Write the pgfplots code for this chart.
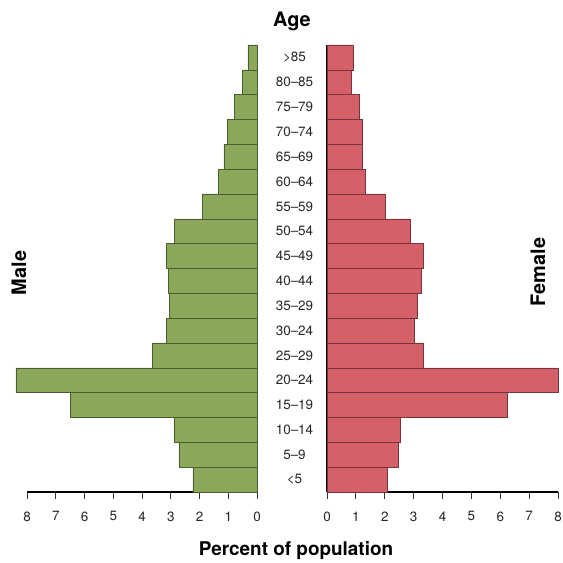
\documentclass[border=0pt]{standalone}
\usepackage{fontspec}
\setmainfont{TeX Gyre Heros}
\usepackage{pgfplots}
\pgfplotsset{compat=1.18}
\usepackage{pgfplotstable}

\definecolor{malegreen}{RGB}{139,168,90}
\definecolor{femalered}{RGB}{213,96,106}

% percent of population per age group, 0 = <5 ... 17 = >85
\pgfplotstableread{
idx pct
0  2.23
1  2.72
2  2.89
3  6.49
4  8.39
5  3.64
6  3.15
7  3.06
8  3.09
9  3.17
10 2.88
11 1.91
12 1.35
13 1.15
14 1.03
15 0.78
16 0.51
17 0.32
}\maletable

\pgfplotstableread{
idx pct
0  2.09
1  2.48
2  2.53
3  6.24
4  8.00
5  3.32
6  3.02
7  3.14
8  3.26
9  3.32
10 2.87
11 2.02
12 1.31
13 1.22
14 1.22
15 1.11
16 0.83
17 0.92
}\femaletable

\pgfplotsset{
  pyramid/.style={
    scale only axis,
    anchor=south west,
    height=447bp,
    xbar,
    bar width=1,
    ymin=-0.5, ymax=17.5,
    clip=false,
    axis x line=bottom,
    tick align=outside,
    major tick length=7bp,
    x tick style={black!80, line width=0.8bp},
    y tick style={draw=none},
    xticklabel style={font=\fontsize{13.5}{15}\selectfont, text=black!85, yshift=-9bp},
  },
  plainlines/.style={
    every outer x axis line/.append style={-, line width=1.8bp},
    every outer y axis line/.append style={-, line width=1.8bp},
    axis line style={-, line width=1.8bp},
  }
}

\begin{document}
\begin{tikzpicture}
\useasboundingbox (0,0) rectangle (563bp,563bp);

\begin{axis}[
  pyramid,
  at={(27bp,71bp)},
  width=230bp,
  xmin=-8, xmax=0,
  axis y line=right,
  plainlines,
  xtick={-8,-7,-6,-5,-4,-3,-2,-1,0},
  xticklabels={8,7,6,5,4,3,2,1,0},
  ytick={0,...,17},
  yticklabels={<5,5--9,10--14,15--19,20--24,25--29,30--24,35--29,40--44,45--49,50--54,55--59,60--64,65--69,70--74,75--79,80--85,>85},
  yticklabel style={anchor=center, xshift=34bp, font=\fontsize{13.5}{15}\selectfont, text=black!85},
]
  \addplot[fill=malegreen, draw=malegreen!55!black, line width=0.5bp]
    table[x expr=-\thisrow{pct}, y=idx] {\maletable};
\end{axis}

\begin{axis}[
  pyramid,
  at={(327bp,71bp)},
  width=231bp,
  xmin=0, xmax=8,
  axis y line=left,
  plainlines,
  xtick={0,1,2,3,4,5,6,7,8},
  xticklabels={0,1,2,3,4,5,6,7,8},
  ytick=\empty,
]
  \addplot[fill=femalered, draw=femalered!55!black, line width=0.5bp]
    table[x=pct, y=idx] {\femaletable};
\end{axis}

\node[font=\bfseries\fontsize{20}{24}\selectfont] at (292bp,542bp) {Age};
\node[font=\bfseries\fontsize{20}{24}\selectfont, rotate=90] at (19bp,290bp) {Male};
\node[font=\bfseries\fontsize{20}{24}\selectfont, rotate=90] at (538bp,291bp) {Female};
\node[font=\bfseries\fontsize{19}{23}\selectfont] at (296bp,12bp) {Percent of population};
\end{tikzpicture}
\end{document}
